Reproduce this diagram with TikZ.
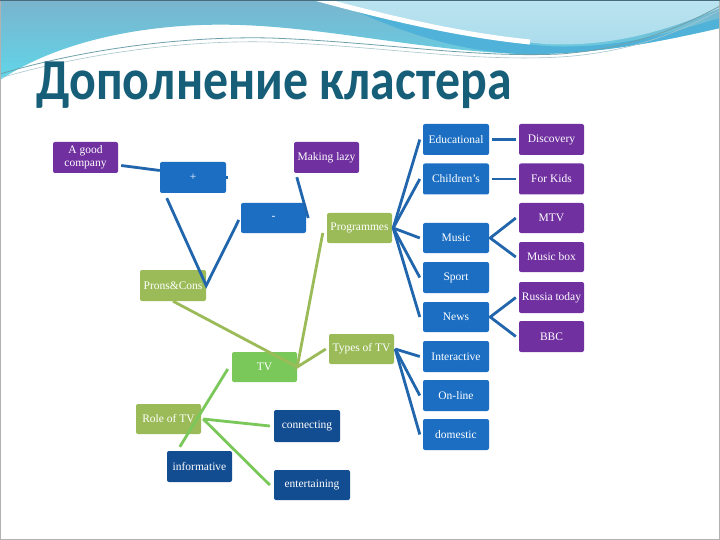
\documentclass[tikz,border=0pt]{standalone}
\usepackage{fontspec}
\setmainfont{Liberation Serif}
\newfontfamily\titlefont{Carlito}
\usetikzlibrary{calc}
\definecolor{bx}{RGB}{27,110,194}
\definecolor{pu}{RGB}{112,48,160}
\definecolor{ol}{RGB}{155,187,89}
\definecolor{lg}{RGB}{122,200,90}
\definecolor{db}{RGB}{18,76,145}
\definecolor{bl}{RGB}{33,102,172}
\definecolor{titlecol}{RGB}{23,94,120}
\definecolor{hdtop}{RGB}{122,180,206}
\definecolor{hdbot}{RGB}{96,214,232}
\definecolor{hdlight}{RGB}{170,220,236}
\definecolor{hdmid}{RGB}{80,178,216}
\definecolor{wline}{RGB}{110,160,170}
\begin{document}
\begin{tikzpicture}[x=1pt,y=-1pt,
  box/.style={rectangle, rounded corners=2pt, minimum width=65pt, minimum height=31pt,
    inner sep=1pt, text=white, align=center, font=\fontsize{11.5}{12.5}\selectfont},
  bbox/.style={box, fill=bx},
  pbox/.style={box, fill=pu},
  obox/.style={box, fill=ol},
  gbox/.style={box, fill=lg},
  dbox/.style={box, fill=db},
  bline/.style={draw=bl, line width=2.8pt},
  oline/.style={draw=ol, line width=2.8pt},
  gline/.style={draw=lg, line width=2.8pt}]
\useasboundingbox (0,0) rectangle (720,540);
\fill[white] (0,0) rectangle (720,540);
% header
\shade[top color=hdtop, bottom color=hdbot] (0,0) -- (720,0) -- (720,28)
  .. controls (650,44) and (590,55) .. (520,54)
  .. controls (420,50) and (330,28) .. (240,25)
  .. controls (150,22) and (60,40) .. (0,80) -- cycle;
\fill[hdmid] (330,0) .. controls (420,28) and (480,40) .. (545,46)
  .. controls (620,50) and (680,30) .. (720,18) -- (720,28)
  .. controls (650,44) and (590,55) .. (520,54)
  .. controls (440,50) and (380,22) .. (330,0) -- cycle;
\shade[top color=hdlight!80!white, bottom color=hdlight] (328,0)
  .. controls (400,22) and (480,38) .. (545,44)
  .. controls (620,48) and (680,25) .. (720,8) -- (720,0) -- cycle;
\draw[white, line width=5pt] (300,-6) .. controls (400,22) and (470,36) .. (530,42);
\draw[wline, line width=0.8pt] (0,74) .. controls (80,50) and (180,36) .. (270,38)
  .. controls (380,42) and (470,58) .. (560,54) .. controls (640,48) and (690,22) .. (720,6);
\draw[wline!60!white, line width=0.6pt] (0,78) .. controls (90,52) and (190,40) .. (270,42)
  .. controls (380,46) and (470,62) .. (560,57) .. controls (640,52) and (690,26) .. (720,10);
\node[anchor=base west, inner sep=0, text=titlecol,
  font=\titlefont\bfseries\fontsize{58}{60}\selectfont] (title) at (36,100)
  {\scalebox{0.86}[1]{Дополнение кластера}};
% boxes
\node[pbox] (agood) at (85.5,157.5) {A good\\company};
\node[pbox] (making) at (326.5,157.5) {Making lazy};
\node[bbox, minimum width=66pt] (plus) at (193,177.5) {+};
\node[bbox, minimum height=30pt] (minus) at (273.5,218) {-};
\node[obox, minimum height=30pt] (prog) at (359.5,228) {Programmes};
\node[obox, minimum width=66pt] (proscons) at (173,285.5) {Prons\&Cons};
\node[bbox, minimum width=66pt] (edu) at (456,139.5) {Educational};
\node[pbox] (disc) at (551.5,139.5) {Discovery};
\node[bbox, minimum width=66pt] (child) at (456,179) {Children's};
\node[pbox] (kids) at (551.5,179) {For Kids};
\node[bbox, minimum width=66pt, minimum height=30pt] (music) at (456,238) {Music};
\node[pbox, minimum height=30pt] (mtv) at (551.5,218) {MTV};
\node[pbox, minimum height=30pt] (musicbox) at (551.5,257) {Music box};
\node[bbox, minimum width=66pt] (sport) at (456,277.5) {Sport};
\node[pbox] (russia) at (551.5,297.5) {Russia today};
\node[bbox, minimum width=66pt, minimum height=30pt] (news) at (456,317) {News};
\node[pbox] (bbc) at (551.5,336.5) {BBC};
\node[bbox, minimum width=66pt] (inter) at (456,356.5) {Interactive};
\node[bbox, minimum width=66pt] (online) at (456,395.5) {On-line};
\node[bbox, minimum width=66pt] (domestic) at (456,434.5) {domestic};
\node[obox, minimum height=30pt] (types) at (361.5,349) {Types of TV};
\node[gbox, minimum height=30pt] (tv) at (264.5,367) {TV};
\node[obox, minimum height=30pt] (role) at (168.5,419) {Role of TV};
\node[dbox, minimum width=66pt, minimum height=32pt] (connecting) at (307,426) {connecting};
\node[dbox] (informative) at (199.5,466.5) {informative};
\node[dbox, minimum width=76pt, minimum height=30pt] (entertaining) at (312,485) {entertaining};
% blue connectors
\draw[bline] ($(agood.east)+(3,8)$) -- ($(plus.west)+(0,-7)$);
\draw[bline] (plus.east) -- ++(2,0);
\draw[bline] ($(plus.south west)+(7,5)$) -- (proscons.east) -- ($(minus.west)+(-2,2)$);
\draw[bline] ($(making.south west)+(3,4)$) -- ($(minus.east)+(2,0)$);
\foreach \n in {edu,child,music,sport,news}
  \draw[bline] ($(prog.east)+(1,0)$) -- ($(\n.west)+(-3,0)$);
\draw[bline] ($(edu.east)+(3,0)$) -- ($(disc.west)+(-3,0)$);
\draw[bline] ($(child.east)+(3,0)$) -- ($(kids.west)+(-3,0)$);
\draw[bline] ($(mtv.west)+(-3,0)$) -- ($(music.east)+(1,0)$) -- ($(musicbox.west)+(-3,0)$);
\draw[bline] ($(russia.west)+(-3,0)$) -- ($(news.east)+(1,0)$) -- ($(bbc.west)+(-3,0)$);
\foreach \n in {inter,online,domestic}
  \draw[bline] ($(types.east)+(1,0)$) -- ($(\n.west)+(-3,0)$);
% green connectors
\draw[oline] (proscons.south) -- (tv.east);
\draw[oline] ($(prog.west)+(-4,5)$) -- (tv.east) -- ($(types.west)+(-3,0)$);
\draw[gline] ($(tv.west)+(-4,2)$) -- ($(informative.north west)+(13,-4)$);
\draw[gline] ($(role.east)+(2,0)$) -- ($(connecting.west)+(-4,0)$);
\draw[gline] ($(role.east)+(2,0)$) -- ($(entertaining.west)+(-4,0)$);
% frame
\draw[gray!60, line width=0.8pt] (0.4,0.4) rectangle (719.6,539.6);
\draw[hdtop!60!black, line width=1pt] (0,0.5) -- (720,0.5);
\end{tikzpicture}
\end{document}
